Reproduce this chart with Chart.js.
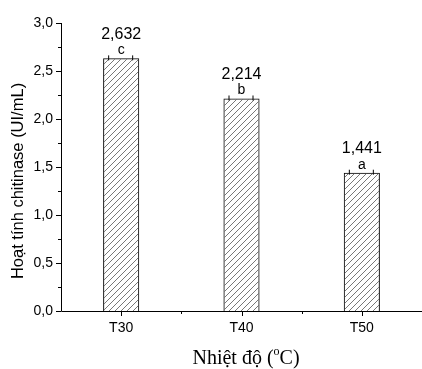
<!DOCTYPE html>
<html>
<head>
<meta charset="utf-8">
<script src="https://cdn.jsdelivr.net/npm/chart.js@4"></script>
<style>
  body { margin: 0; background: #fff; }
  #wrap { width: 422px; height: 369px; }
</style>
</head>
<body>
<div id="wrap"><canvas id="bar-chitinase"></canvas></div>
<script>
const labels = ['T30', 'T40', 'T50'];
const values = [2.632, 2.214, 1.441];
const errors = [0.01, 0.01, 0.01];
const letters = ['c', 'b', 'a'];
const yTicks = [0, 0.5, 1.0, 1.5, 2.0, 2.5, 3.0];
const yTitle = 'Hoạt tính chitinase (UI/mL)';

// hatch fill "/"
function hatch() {
  const c = document.createElement('canvas');
  c.width = 6; c.height = 6;
  const g = c.getContext('2d');
  g.strokeStyle = '#555';
  g.lineWidth = 0.8;
  g.beginPath();
  g.moveTo(0, 6); g.lineTo(6, 0);
  g.moveTo(-1, 1); g.lineTo(1, -1);
  g.moveTo(5, 7); g.lineTo(7, 5);
  g.stroke();
  return g.createPattern(c, 'repeat');
}

const fmt = v => v.toFixed(3).replace('.', ',');

const extras = {
  id: 'extras',
  afterDatasetsDraw(chart) {
    const {ctx, scales: {x, y}} = chart;
    const meta = chart.getDatasetMeta(0);
    ctx.save();
    ctx.strokeStyle = '#000';
    ctx.lineWidth = 1;
    // axis lines
    ctx.beginPath();
    ctx.moveTo(x.left + 0.5, y.top);
    ctx.lineTo(x.left + 0.5, y.bottom + 0.5);
    ctx.lineTo(x.right, y.bottom + 0.5);
    ctx.stroke();
    // y ticks (major + minor)
    for (let v = 0; v <= 3.0001; v += 0.25) {
      const py = Math.round(y.getPixelForValue(v)) + 0.5;
      const major = Math.abs(v * 2 - Math.round(v * 2)) < 1e-6;
      ctx.beginPath();
      ctx.moveTo(x.left, py);
      ctx.lineTo(x.left - (major ? 5 : 3), py);
      ctx.stroke();
    }
    // x ticks
    labels.forEach((l, i) => {
      const px = Math.round(x.getPixelForValue(i)) + 0.5;
      ctx.beginPath();
      ctx.moveTo(px, y.bottom);
      ctx.lineTo(px, y.bottom + 5);
      ctx.stroke();
      if (i < labels.length - 1) {
        const mx = Math.round(x.getPixelForValue(i + 0.5)) + 0.5;
        ctx.beginPath();
        ctx.moveTo(mx, y.bottom);
        ctx.lineTo(mx, y.bottom + 3);
        ctx.stroke();
      }
    });
    // error caps, letters, values
    ctx.fillStyle = '#000';
    ctx.textAlign = 'center';
    ctx.textBaseline = 'middle';
    meta.data.forEach((bar, i) => {
      const top = y.getPixelForValue(values[i] + errors[i]);
      const cx = bar.x;
      ctx.beginPath();
      ctx.moveTo(cx - 12.5, top - 2); ctx.lineTo(cx - 12.5, top + 3);
      ctx.moveTo(cx + 11.5, top - 2); ctx.lineTo(cx + 11.5, top + 3);
      ctx.stroke();
      const t = y.getPixelForValue(values[i]);
      ctx.font = '14px "Liberation Sans", Arial, sans-serif';
      ctx.fillText(letters[i], cx, t - 8);
      ctx.font = '16px "Liberation Sans", Arial, sans-serif';
      ctx.fillText(fmt(values[i]), cx, t - 24);
    });
    // y title
    ctx.save();
    ctx.translate(18, 181);
    ctx.rotate(-Math.PI / 2);
    ctx.font = '16.5px "Liberation Sans", Arial, sans-serif';
    ctx.fillText(yTitle, 0, 0);
    ctx.restore();
    // x title with superscript o
    ctx.font = '20px "Liberation Serif", "Times New Roman", serif';
    const a = 'Nhiệt độ (', b = 'o', c = 'C)';
    const wa = ctx.measureText(a).width, wc = ctx.measureText(c).width;
    ctx.font = '12px "Liberation Serif", "Times New Roman", serif';
    const wb = ctx.measureText(b).width;
    let sx = 246 - (wa + wb + wc) / 2;
    ctx.textAlign = 'left';
    ctx.textBaseline = 'alphabetic';
    ctx.font = '20px "Liberation Serif", "Times New Roman", serif';
    ctx.fillText(a, sx, 364);
    ctx.font = '12px "Liberation Serif", "Times New Roman", serif';
    ctx.fillText(b, sx + wa, 355);
    ctx.font = '20px "Liberation Serif", "Times New Roman", serif';
    ctx.fillText(c, sx + wa + wb, 364);
    ctx.restore();
  }
};

new Chart(document.getElementById('bar-chitinase'), {
  type: 'bar',
  data: {
    labels: labels,
    datasets: [{
      data: values,
      backgroundColor: hatch(),
      borderColor: '#000',
      borderWidth: 1,
      borderSkipped: 'bottom',
      categoryPercentage: 1,
      barPercentage: 0.3
    }]
  },
  options: {
    responsive: true,
    maintainAspectRatio: false,
    animation: false,
    layout: { padding: { top: 23, right: 0, left: 0, bottom: 0 } },
    plugins: { legend: { display: false }, tooltip: { enabled: false } },
    scales: {
      x: {
        grid: { display: false, drawTicks: false },
        border: { display: false },
        ticks: { color: '#000', padding: 9, font: { family: '"Liberation Sans", Arial', size: 14 } },
        afterFit: s => { s.height = 58; }
      },
      y: {
        min: 0,
        max: 3.0,
        afterBuildTicks: s => { s.ticks = yTicks.map(v => ({ value: v })); },
        grid: { display: false, drawTicks: false },
        border: { display: false },
        ticks: {
          color: '#000',
          padding: 8,
          font: { family: '"Liberation Sans", Arial', size: 14 },
          callback: v => v.toFixed(1).replace('.', ',')
        },
        afterFit: s => { s.width = 61; }
      }
    }
  },
  plugins: [extras]
});
</script>
</body>
</html>
